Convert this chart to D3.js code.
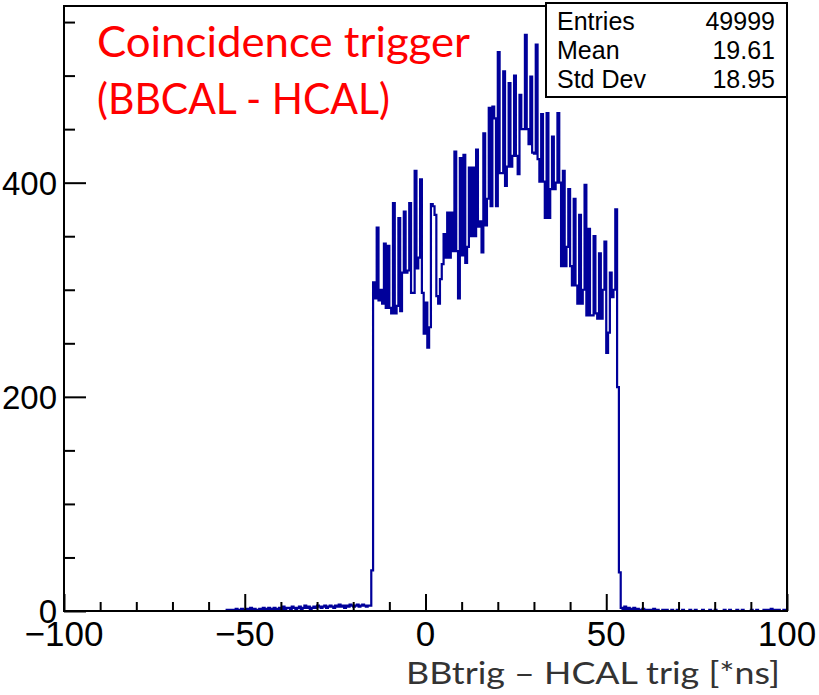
<!DOCTYPE html>
<html>
<head>
<meta charset="utf-8">
<script src="https://cdn.jsdelivr.net/npm/d3@7"></script>
<style>
  body { margin: 0; background: #fff; }
</style>
</head>
<body>
<div id="chart"></div>
<script>
// histogram, 0.5 ns bins
var binWidth = 0.5;
var firstEdge = -55;   // low edge of first entry of leftTail

var leftTail = [1,0,1,1,0,2,1,1,2,1, 0,2,1,3,1,2,1,0,2,2, 3,1,2,3,2,2,3,1,2,3,
  2,4,2,3,3,2,4,3,2,3, 4,2,3,5,3,4,2,3,4,3, 5,4,3,4,5,3,4,5,4,3,
  5,4,6,4,5,3,5,4,6,5, 4,5,6,4,5,6,5,4,5];

var signal = [5, 38, 307, 292, 358, 290, 300, 287, 343, 283,
  341, 283, 278, 381, 278, 285, 367, 280, 316, 373,
  316, 318, 381, 297, 297, 411, 320, 330, 403, 297,
  259, 288, 246, 265, 380, 378, 370, 294, 287, 310,
  324, 352, 330, 372, 330, 372, 336, 429, 336, 292,
  423, 332, 426, 325, 340, 414, 350, 414, 350, 431,
  359, 364, 335, 446, 360, 385, 470, 378, 471, 460,
  378, 522, 409, 409, 504, 397, 415, 493, 415, 425,
  500, 425, 408, 482, 450, 450, 538, 450, 436, 499,
  428, 427, 529, 422, 401, 464, 401, 367, 465, 367,
  394, 443, 394, 400, 465, 400, 322, 411, 322, 340,
  394, 322, 304, 385, 304, 287, 370, 287, 300, 398,
  276, 357, 276, 276, 350, 278, 273, 334, 273, 300,
  345, 241, 260, 316, 293, 300, 375, 209, 36];

var rightTail = [3,2,4,2,3,1,2,3,1,2, 1,0,2,1,0,1,1,0,2,0, 1,0,0,1,0,1,0,0,1,0,
  0,1,0,0,1,0,0,0,1,0, 0,1,0,0,0,1,0,0,0,1, 0,0,1,0,0,0,0,1,0,0,
  1,0,0,0,1,0,0,1,0,0, 0,0,1,0,0,1,0,0,0,1, 1,0,1,2,0,1,0,1,0,0, 1,0];

var xTicks = [-100, -50, 0, 50, 100];
var yTicks = [0, 200, 400];
var statLabels = ["Entries", "Mean", "Std Dev"];
var statValues = ["49999", "19.61", "18.95"];
var titleLines = ["Coincidence trigger", "(BBCAL - HCAL)"];
var xTitle = "BBtrig \u2013 HCAL trig [*ns]";

var total_width = 819, total_height = 695;
var frame = {left: 64, right: 787, top: 6, bottom: 611};

var svg = d3.select("#chart").append("svg")
    .attr("width", total_width)
    .attr("height", total_height);

var x = d3.scaleLinear().domain([-100, 100]).range([frame.left, frame.right]);
var y = d3.scaleLinear().domain([0, 565]).range([frame.bottom, frame.top]);

// bins -> step points
var counts = leftTail.concat(signal, rightTail);
var pts = [{e: -100, v: 0}, {e: firstEdge, v: 0}];
counts.forEach(function (c, i) { pts.push({e: firstEdge + i * binWidth, v: c}); });
pts.push({e: firstEdge + counts.length * binWidth, v: 0});
pts.push({e: 100, v: 0});

var line = d3.line()
    .x(function (d) { return x(d.e); })
    .y(function (d) { return y(d.v); })
    .curve(d3.curveStepAfter);

svg.append("path")
    .datum(pts)
    .attr("d", line)
    .attr("fill", "none")
    .attr("stroke", "#00009a")
    .attr("stroke-width", 2.2);

// frame
svg.append("rect")
    .attr("x", frame.left)
    .attr("y", frame.top)
    .attr("width", frame.right - frame.left)
    .attr("height", frame.bottom - frame.top)
    .attr("fill", "none")
    .attr("stroke", "#000")
    .attr("stroke-width", 2);

// x axis, ticks pointing up
var xAxis = svg.append("g")
    .attr("transform", "translate(0," + frame.bottom + ")")
    .call(d3.axisBottom(x).tickValues(d3.range(-100, 101, 10)).tickSize(-9).tickFormat(""));
xAxis.select(".domain").remove();
xAxis.selectAll(".tick line")
    .attr("stroke-width", 2)
    .attr("y2", function (d) { return xTicks.indexOf(d) >= 0 ? -17 : -9; });

svg.append("g").selectAll("text")
    .data(xTicks)
    .enter()
    .append("text")
      .attr("x", function (d) { return x(d); })
      .attr("y", 646)
      .attr("text-anchor", "middle")
      .attr("font-family", "Liberation Sans, Arial, sans-serif")
      .attr("font-size", 35)
      .text(function (d) { return d < 0 ? "\u2212" + Math.abs(d) : d; });

// y axis, ticks pointing right
var yAxis = svg.append("g")
    .attr("transform", "translate(" + frame.left + ",0)")
    .call(d3.axisLeft(y).tickValues(d3.range(0, 551, 50)).tickSize(-11).tickFormat(""));
yAxis.select(".domain").remove();
yAxis.selectAll(".tick line")
    .attr("stroke-width", 2)
    .attr("x2", function (d) { return yTicks.indexOf(d) >= 0 ? 22 : 11; });

svg.append("g").selectAll("text")
    .data(yTicks)
    .enter()
    .append("text")
      .attr("x", 57)
      .attr("y", function (d) { return y(d) + 12; })
      .attr("text-anchor", "end")
      .attr("font-family", "Liberation Sans, Arial, sans-serif")
      .attr("font-size", 33)
      .text(function (d) { return d; });

// x title
svg.append("text")
    .attr("x", 406)
    .attr("y", 684)
    .attr("font-family", "Lato, sans-serif")
    .attr("font-size", 31)
    .attr("fill", "#333")
    .attr("textLength", 374)
    .attr("lengthAdjust", "spacingAndGlyphs")
    .text(xTitle);

// red label
svg.append("g").selectAll("text")
    .data(titleLines)
    .enter()
    .append("text")
      .attr("x", 97)
      .attr("y", function (d, i) { return 57 + i * 57; })
      .attr("font-family", "Lato, sans-serif")
      .attr("font-size", 42)
      .attr("fill", "#ff0000")
      .attr("textLength", function (d, i) { return i == 0 ? 373 : 293; })
      .attr("lengthAdjust", "spacingAndGlyphs")
      .text(function (d) { return d; });

// stats box
var stats = svg.append("g");
stats.append("rect")
    .attr("x", 546)
    .attr("y", 3)
    .attr("width", 241)
    .attr("height", 94)
    .attr("fill", "#fff")
    .attr("stroke", "#000")
    .attr("stroke-width", 2);
statLabels.forEach(function (s, i) {
  stats.append("text")
      .attr("x", 557)
      .attr("y", 30 + i * 29)
      .attr("font-family", "Liberation Sans, Arial, sans-serif")
      .attr("font-size", 25)
      .text(s);
  stats.append("text")
      .attr("x", 775)
      .attr("y", 30 + i * 29)
      .attr("text-anchor", "end")
      .attr("font-family", "Liberation Sans, Arial, sans-serif")
      .attr("font-size", 25)
      .text(statValues[i]);
});
</script>
</body>
</html>
